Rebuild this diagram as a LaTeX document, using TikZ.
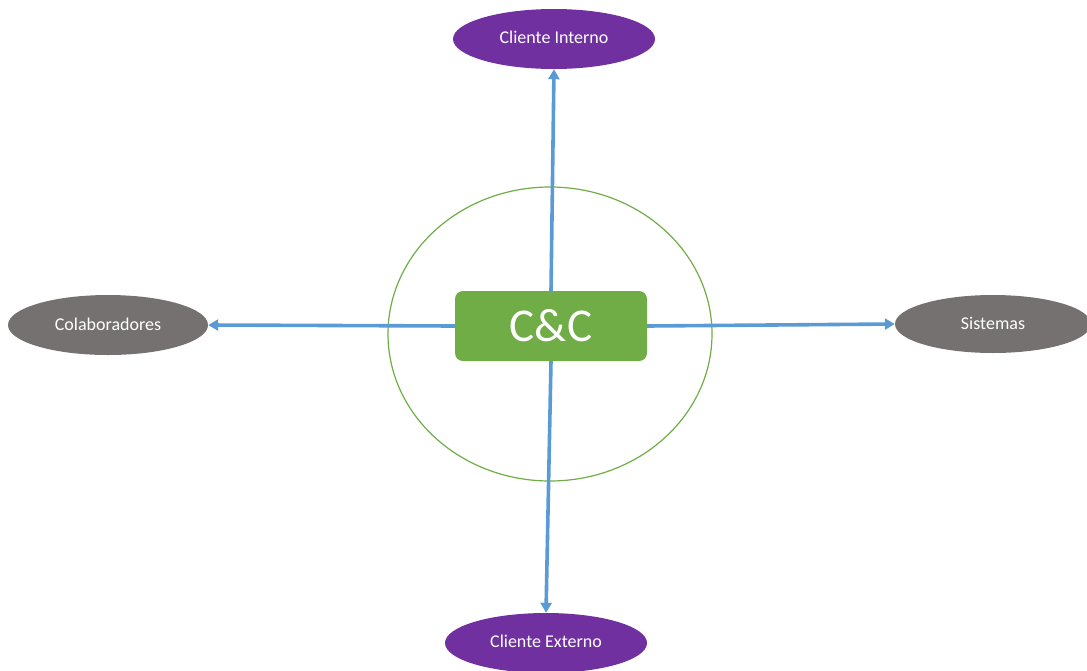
\documentclass[tikz,border=0pt]{standalone}
\usepackage{fontspec}
\setmainfont{Carlito}
\usetikzlibrary{shapes.geometric,arrows.meta}
\definecolor{ccpurple}{HTML}{7030A0}
\definecolor{ccgray}{HTML}{767171}
\definecolor{ccgreen}{HTML}{70AD47}
\definecolor{ccblue}{HTML}{5B9BD5}
\tikzset{
  party/.style={ellipse, draw=none, inner sep=0pt, minimum width=202pt,
    minimum height=60pt, text=white, font=\fontsize{18}{20}\selectfont},
  internal/.style={party, fill=ccpurple},
  external/.style={party, fill=ccgray},
  core/.style={rectangle, rounded corners=8pt, fill=ccgreen, text=white,
    minimum width=192pt, minimum height=70pt, inner sep=0pt,
    font=\fontsize{47}{50}\selectfont},
  link/.style={draw=ccblue, line width=3.6pt,
    -{Triangle[length=10pt,width=11pt]}}
}
\begin{document}
\begin{tikzpicture}[x=1pt,y=-1pt]
  \useasboundingbox (0,0) rectangle (1087,670);
  % surrounding ring
  \node (ring) [ellipse, draw=ccgreen, line width=1.2pt, minimum width=324pt,
    minimum height=294pt, inner sep=0pt] at (550,334) {};
  % central unit and its stakeholders
  \node (cc) [core] at (551,326) {C\&C};
  \node (ci) [internal] at (554,39) {\raisebox{3pt}{Cliente Interno}};
  \node (ce) [internal] at (546,643) {\raisebox{3pt}{Cliente Externo}};
  \node (co) [external, minimum width=200pt] at (108,325) {\raisebox{2pt}{Colaboradores}};
  \node (si) [external, minimum width=196pt, minimum height=58pt] at (993,324) {\raisebox{2pt}{Sistemas}};
  % connectors
  \draw[link] (cc.north) -- (ci.south);
  \draw[link] (cc.south) -- (ce.north);
  \draw[link] (cc.west) -- (co.east);
  \draw[link] (cc.east) -- (si.west);
\end{tikzpicture}
\end{document}
